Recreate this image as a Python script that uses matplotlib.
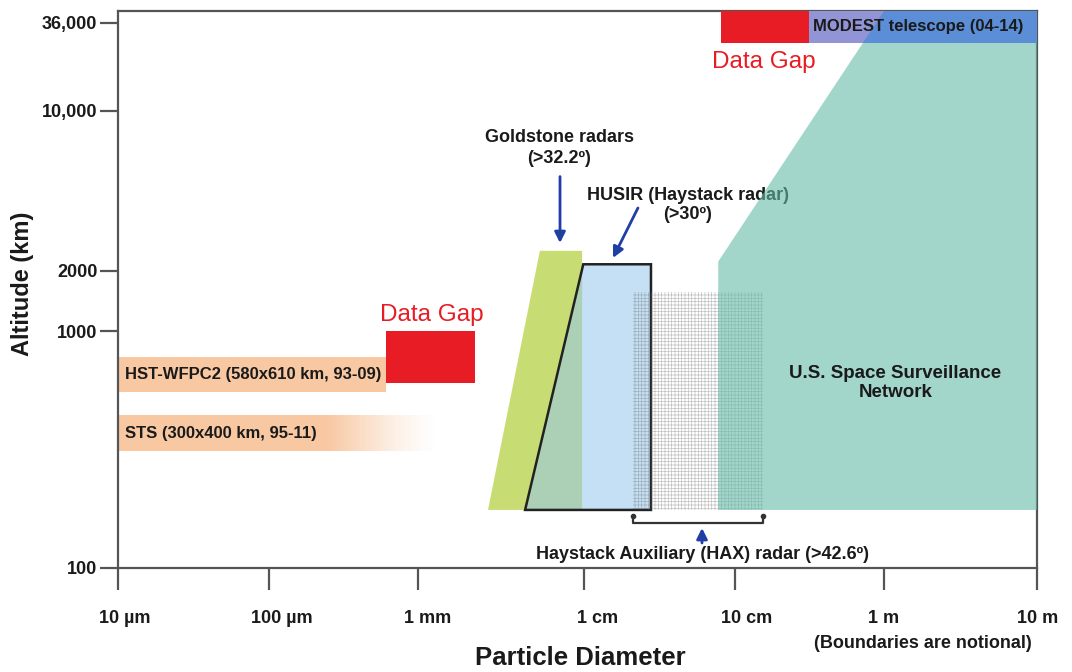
import numpy as np
import matplotlib
matplotlib.use('Agg')
import matplotlib.pyplot as plt
import matplotlib.transforms as mtransforms
from matplotlib.patches import Polygon, Rectangle

plt.rcParams['font.family'] = ['Liberation Sans', 'DejaVu Sans']

# particle diameter in m, altitude in km
size_ticks = [1e-5, 1e-4, 1e-3, 1e-2, 1e-1, 1, 10]
size_labels = ['10 µm', '100 µm', '1 mm', '1 cm', '10 cm', '1 m', '10 m']
alt_ticks = [100, 1000, 2000, 10000, 36000]
alt_labels = ['100', '1000', '2000', '10,000', '36,000']
alt_top = 42880

hst_size = [1e-5, 6.1e-4]
hst_alt = [556, 782]
sts_size = [1e-5, 2.5e-4, 1.3e-3]      # start, solid until, faded out by
sts_alt = [313, 444]
gap_low_size = [6.1e-4, 2.2e-3]
gap_low_alt = [606, 1000]
goldstone_size = [2.63e-3, 5.4e-3, 9.7e-3, 9.7e-3]
goldstone_alt = [176, 2450, 2450, 176]
husir_size = [4.4e-3, 9.86e-3, 2.77e-2, 2.77e-2]
husir_alt = [176, 2140, 2140, 176]
hax_size = [2.11e-2, 0.153]
hax_alt = [176, 1580]
ssn_size = [0.0774, 0.0774, 1.0, 10, 10]
ssn_alt = [176, 2200, alt_top, alt_top, 176]
gap_top_size = [0.0804, 0.314]
modest_size = [0.314, 10]
top_band_alt = [27020, alt_top]

# notional axes: piecewise log mapping (boundaries are notional)
XL = [-6, -5, -4, -3, -2, -1, 0, 1, 2]
XP = [-151, 0, 151, 300.6, 466.6, 617.3, 766.3, 919.3, 1072]
YL = [1, 2, 3, np.log10(2000), 4, np.log10(36000), 4.70]
YP = [-236.5, 0, 236.5, 297, 457, 545, 567.7]


def fx(v):
    v = np.asarray(v, dtype=float)
    return np.interp(np.log10(np.maximum(v, 1e-30)), XL, XP)


def fx_inv(p):
    return 10 ** np.interp(np.asarray(p, dtype=float), XP, XL)


def fy(v):
    v = np.asarray(v, dtype=float)
    return np.interp(np.log10(np.maximum(v, 1e-30)), YL, YP)


def fy_inv(p):
    return 10 ** np.interp(np.asarray(p, dtype=float), YP, YL)


fig = plt.figure(figsize=(10.72, 6.72), dpi=100)
ax = fig.add_axes([117.7 / 1072, 1 - 568 / 672, 919.3 / 1072, 557 / 672])
ax.set_xscale('function', functions=(fx, fx_inv))
ax.set_yscale('function', functions=(fy, fy_inv))
ax.set_xlim(size_ticks[0], size_ticks[-1])
ax.set_ylim(alt_ticks[0], alt_top)

peach = '#f8c8a2'
red = '#e81c24'
blue_arrow = '#1f3fa5'

# HST and STS bands
ax.fill_between(hst_size, hst_alt[0], hst_alt[1], color=peach, lw=0, zorder=1)
ax.fill_between(sts_size[:2], sts_alt[0], sts_alt[1], color=peach, lw=0, zorder=1)
n = 40
edges = np.logspace(np.log10(sts_size[1]), np.log10(sts_size[2]), n + 1)
for i in range(n):
    ax.fill_between(edges[i:i + 2], sts_alt[0], sts_alt[1], color=peach,
                    alpha=(1 - (i + 0.5) / n) ** 1.3, lw=0, zorder=1)
ax.add_patch(Rectangle((gap_low_size[0], gap_low_alt[0]), gap_low_size[1] - gap_low_size[0],
                       gap_low_alt[1] - gap_low_alt[0], color=red, lw=0, zorder=2))

# Goldstone and HUSIR
ax.add_patch(Polygon(np.column_stack([goldstone_size, goldstone_alt]), closed=True,
                     facecolor='#c8dc74', lw=0, zorder=2))
ax.add_patch(Polygon(np.column_stack([husir_size, husir_alt]), closed=True,
                     facecolor='#96c7eb', alpha=0.55, lw=0, zorder=2.1))
ax.add_patch(Polygon(np.column_stack([husir_size, husir_alt]), closed=True,
                     facecolor='none', edgecolor='#222222', lw=1.8, zorder=2.2))

# HAX grid
plt.rcParams['hatch.linewidth'] = 0.5
ax.add_patch(Rectangle((hax_size[0], hax_alt[0]), hax_size[1] - hax_size[0],
                       hax_alt[1] - hax_alt[0], facecolor='none',
                       edgecolor=(0.4, 0.4, 0.4, 0.4), lw=0, hatch='+++++', zorder=2.5))

# text that sits under the SSN region
ax.text(0.0488, 3880, 'HUSIR (Haystack radar)\n(>30º)', ha='center', va='center',
        fontsize=13, fontweight='bold', linespacing=1.2, color='#1a1a1a', zorder=3)

# U.S. Space Surveillance Network
ssn = Polygon(np.column_stack([ssn_size, ssn_alt]), closed=True,
              facecolor='#64bba9', alpha=0.6, lw=0, zorder=4)
ax.add_patch(ssn)

# top: data gap and MODEST band
ax.add_patch(Rectangle((gap_top_size[0], top_band_alt[0]), gap_top_size[1] - gap_top_size[0],
                       top_band_alt[1] - top_band_alt[0], color=red, lw=0, zorder=5))
ax.add_patch(Rectangle((modest_size[0], top_band_alt[0]), modest_size[1] - modest_size[0],
                       top_band_alt[1] - top_band_alt[0], color='#9195d6', lw=0, zorder=5))
blue_part = Rectangle((modest_size[0], top_band_alt[0]), modest_size[1] - modest_size[0],
                      top_band_alt[1] - top_band_alt[0], color='#5b8ed6', lw=0, zorder=5.5)
ax.add_patch(blue_part)
blue_part.set_clip_path(ssn)

# labels
bold = dict(fontweight='bold', color='#1a1a1a', zorder=7)
ax.text(1.12e-5, 655, 'HST-WFPC2 (580x610 km, 93-09)', ha='left', va='center', fontsize=12, **bold)
ax.text(1.12e-5, 372, 'STS (300x400 km, 95-11)', ha='left', va='center', fontsize=12, **bold)
ax.text(1.2e-3, 1208, 'Data Gap', ha='center', va='center', fontsize=17.5, color=red, zorder=7)
ax.text(0.156, 20500, 'Data Gap', ha='center', va='center', fontsize=17.5, color=red, zorder=7)
ax.text(0.333, 34100, 'MODEST telescope (04-14)', ha='left', va='center', fontsize=12, **bold)
ax.text(7.05e-3, 6890, 'Goldstone radars\n(>32.2º)', ha='center', va='center', fontsize=13,
        linespacing=1.3, **bold)
ax.text(1.19, 606, 'U.S. Space Surveillance\nNetwork', ha='center', va='center', fontsize=13.5,
        linespacing=1.1, **bold)
ax.text(0.0604, 113.5, 'Haystack Auxiliary (HAX) radar (>42.6º)', ha='center', va='center',
        fontsize=13, **bold)

# arrows
arw = dict(arrowstyle='-|>', color=blue_arrow, lw=2, mutation_scale=16, shrinkA=0, shrinkB=0)
ax.annotate('', xy=(7.14e-3, 2650), xytext=(7.14e-3, 5170), arrowprops=arw, zorder=7)
ax.annotate('', xy=(0.0155, 2280), xytext=(0.0227, 3770), arrowprops=arw, zorder=7)
ax.annotate('', xy=(0.0604, 147.6), xytext=(0.0604, 127.6), arrowprops=arw, zorder=7)

# HAX bracket
ax.plot([hax_size[0], hax_size[0], hax_size[1], hax_size[1]], [166, 154.5, 154.5, 166],
        color='#333333', lw=1.6, zorder=7, clip_on=False)
ax.plot(hax_size, [166, 166], 'o', color='#333333', ms=3, zorder=7)

# axes styling
for s in ax.spines.values():
    s.set_color('#555555')
    s.set_linewidth(1.6)
ax.set_xticks(size_ticks)
ax.set_xticklabels(size_labels)
ax.set_yticks(alt_ticks)
ax.set_yticklabels(alt_labels)
ax.minorticks_off()
ax.tick_params(axis='x', length=16, width=1.6, color='#555555', pad=14.5, labelsize=13)
ax.tick_params(axis='y', length=13, width=1.6, color='#555555', pad=1.7, labelsize=13)
for lab in ax.get_xticklabels() + ax.get_yticklabels():
    lab.set_fontweight('bold')
    lab.set_color('#1a1a1a')
# labels in the original sit a little right of their ticks
label_shift_px = [7, 13, 9, 13, 12, 0, 1]
for lab, dx in zip(ax.get_xticklabels(), label_shift_px):
    lab.set_transform(lab.get_transform() + mtransforms.ScaledTranslation(dx / 100, 0, fig.dpi_scale_trans))

fig.text(580 / 1072, 1 - 658 / 672, 'Particle Diameter', ha='center', va='center',
         fontsize=18.5, fontweight='bold', color='#1a1a1a')
fig.text(23 / 1072, 1 - 284 / 672, 'Altitude (km)', ha='center', va='center', rotation=90,
         fontsize=17, fontweight='bold', color='#1a1a1a')
fig.text(923 / 1072, 1 - 643 / 672, '(Boundaries are notional)', ha='center', va='center',
         fontsize=13, fontweight='bold', color='#1a1a1a')

fig.savefig('out.png', dpi=100)
